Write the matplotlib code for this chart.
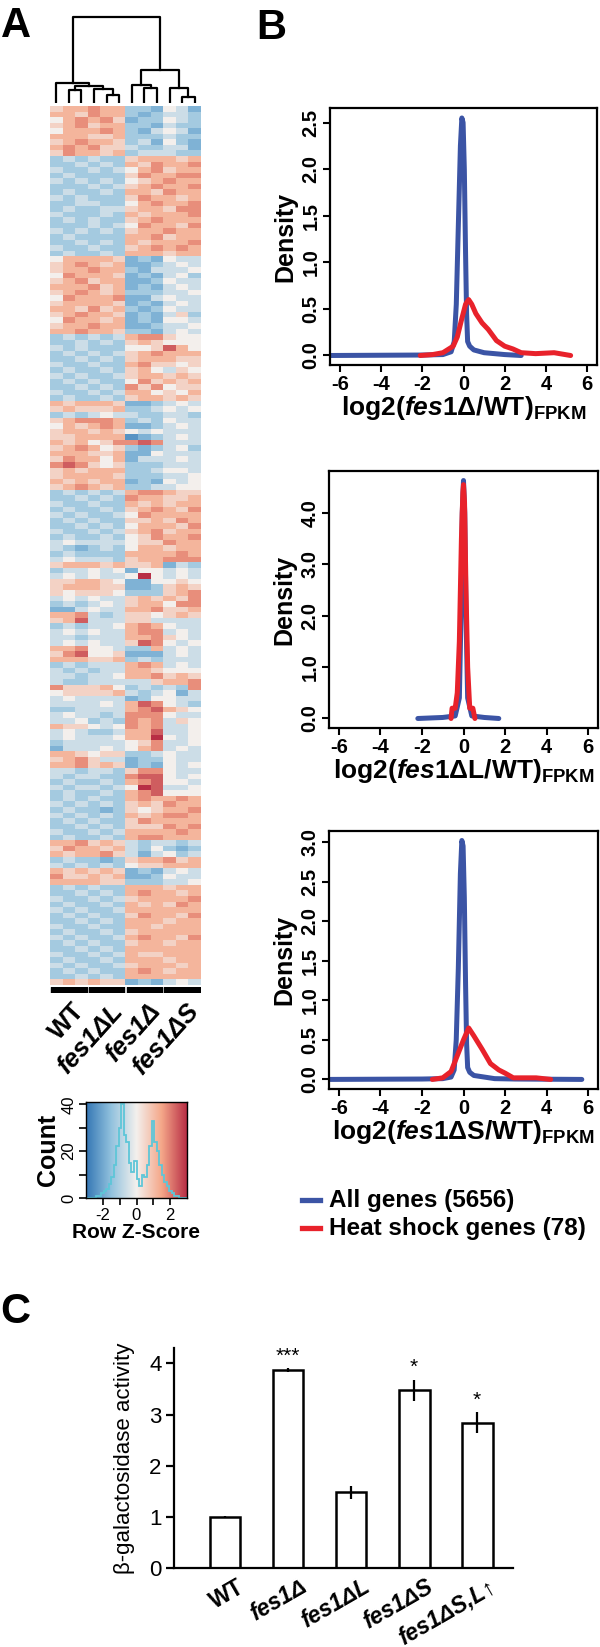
import numpy as np
import matplotlib
matplotlib.use("Agg")
import matplotlib.pyplot as plt
from matplotlib.colors import LinearSegmentedColormap
from matplotlib.lines import Line2D

plt.rcParams['font.family'] = ['Liberation Sans', 'DejaVu Sans']
plt.rcParams['mathtext.fontset'] = 'custom'
plt.rcParams['mathtext.rm'] = 'Liberation Sans:bold'
plt.rcParams['mathtext.it'] = 'Liberation Sans:italic:bold'
plt.rcParams['mathtext.bf'] = 'Liberation Sans:bold'

# ---------------- data ----------------
# heatmap rows, 12 samples (WT x3, fes1dL x3, fes1d x3, fes1dS x3)
# digit d -> row z-score (d - 4) * 0.6
heat_rows = [
    "566766221431", "665766212332", "467675122432", "567566221322", "466676213431",
    "666556222322", "567665231421", "676755322331", "576656233322",
    "232322566656", "223232657667", "322323467566", "232222576677", "323232456766",
    "222323567667", "232232665766", "323222576656", "223322467667", "232233566577",
    "322232656667", "232322567666", "222323476657", "323232566766", "232222667566",
    "223232656667", "322322567676", "232232666566",
    "466665121433", "567656112343", "566766213334", "476665121342", "567566112433",
    "666756121343", "567656222334", "476667113433", "566665121343", "665756212433",
    "567665121352", "476656121443", "566766112334", "667665221343",
    "232323677544", "223232565444", "323222445864", "232323567666", "223232566655",
    "322322675545", "232232564354", "323223566565", "232322475656", "223232757455",
    "322323664546", "232232566565",
    "656665112343", "565556223434", "232343322332", "567776232433", "465676112343",
    "566565434333", "556666012343", "656457787333", "567645212342", "666556114333",
    "576646133343", "787545222333", "565666223443", "566665222334", "656566121434",
    "567656223344",
    "232323677655", "223232766556", "322322656566", "232232567657", "323223476666",
    "232322556576", "223232466657", "322323567566", "232232457667",
    "343333455766", "321232466566", "232222666676", "343332566777", "566656556132",
    "233434144343", "343433494343", "556654114454", "566655112565", "545554222567",
    "343433565657", "232343566477", "113433667556", "667323554565", "568333553333",
    "232334676433", "343433677343", "332333667543", "343433587434", "667443226343",
    "578445111343", "666556232333", "232333676343", "323233665444", "332334667565",
    "322333335667", "755564232327", "455556323413", "343333124433", "333343687432",
    "223333678654", "343323777433", "334232767354", "655434767334", "343223668334",
    "343334669434", "233333457334", "133343467343", "665455223433", "567533122433",
    "667565121434",
    "332332577433", "323322788434", "232232678443", "323323498334", "232232678444",
    "232322676676", "323232565766", "232212545667", "323232656776", "232322576666",
    "223232555767", "322323666676", "232232677666",
    "667565323323", "576656324212", "656675313423",
    "232212566756", "323232455666",
    "656565121343", "755656112433", "666655222334",
    "232322666566", "223232676656", "322323566667", "232232656576", "323223666666",
    "232322576657", "223232666566", "322322665666", "232232566666", "323223676657",
    "232322566566", "223232666666", "322323655666", "232232666566", "323223566656",
    "232322676566", "223232666666",
    "565655121343",
]
heat_groups = ["WT", "fes1ΔL", "fes1Δ", "fes1ΔS"]

# dendrogram merges: (child a, child b, height); leaves 0-11, new nodes from 12
dendro_merges = [
    (1, 2, 0.15), (4, 5, 0.093), (3, 13, 0.163), (12, 14, 0.2), (0, 15, 0.233),
    (7, 8, 0.174), (6, 17, 0.21), (10, 11, 0.07), (9, 19, 0.174), (18, 20, 0.384),
    (16, 21, 1.0),
]

# color key histogram (row z-score bins)
key_edges = [-3.0, -2.85, -2.7, -2.55, -2.4, -2.25, -2.1, -1.95, -1.8, -1.65, -1.5,
             -1.35, -1.2, -1.05, -0.9, -0.75, -0.6, -0.45, -0.3, -0.15, 0.0, 0.15,
             0.3, 0.45, 0.6, 0.75, 0.9, 1.05, 1.2, 1.35, 1.5, 1.65, 1.8, 1.95, 2.1,
             2.25, 2.4, 2.55, 2.7, 2.85, 3.0]
key_counts = [0, 0, 0, 0, 1, 1, 2, 3, 4, 6, 9, 14, 22, 30, 40, 27, 24, 15, 11, 16,
              8, 5, 10, 9, 14, 22, 33, 24, 20, 14, 10, 7, 5, 3, 2, 1, 1, 0, 0, 0]

# density curves (panel B)
d1_all_x = [-6.5, -2.0, -1.0, -0.6, -0.45, -0.35, -0.25, -0.15, -0.08, -0.02, 0.04, 0.1, 0.15, 0.2, 0.3, 0.5, 1.0, 1.5, 2.0, 2.8]
d1_all_y = [0.0, 0.005, 0.01, 0.04, 0.15, 0.55, 1.4, 2.25, 2.55, 2.5, 2.0, 1.1, 0.45, 0.15, 0.1, 0.06, 0.03, 0.02, 0.01, 0.0]
d1_hs_x = [-2.1, -1.5, -1.0, -0.5, -0.3, -0.1, 0.1, 0.25, 0.4, 0.6, 0.9, 1.2, 1.6, 2.0, 2.4, 2.8, 3.5, 4.4, 5.2]
d1_hs_y = [0.0, 0.01, 0.03, 0.1, 0.2, 0.38, 0.55, 0.6, 0.55, 0.45, 0.35, 0.28, 0.16, 0.1, 0.07, 0.03, 0.02, 0.03, 0.0]

d2_all_x = [-2.2, -1.0, -0.4, -0.2, -0.12, -0.06, 0.0, 0.06, 0.12, 0.2, 0.4, 1.0, 1.7]
d2_all_y = [0.0, 0.02, 0.05, 0.4, 2.0, 4.0, 4.63, 4.0, 2.0, 0.4, 0.05, 0.02, 0.0]
d2_hs_x = [-0.6, -0.55, -0.4, -0.3, -0.2, -0.1, -0.03, 0.0, 0.05, 0.12, 0.2, 0.3, 0.45, 0.55]
d2_hs_y = [0.0, 0.2, 0.2, 0.5, 1.5, 3.5, 4.4, 4.55, 4.2, 2.5, 1.0, 0.2, 0.2, 0.0]

d3_all_x = [-6.5, -2.0, -1.0, -0.6, -0.45, -0.35, -0.25, -0.15, -0.08, -0.02, 0.04, 0.1, 0.15, 0.2, 0.3, 0.5, 1.0, 1.5, 2.5, 5.7]
d3_all_y = [0.0, 0.005, 0.01, 0.03, 0.12, 0.5, 1.4, 2.6, 3.02, 2.95, 2.3, 1.2, 0.45, 0.15, 0.09, 0.05, 0.03, 0.01, 0.005, 0.0]
d3_hs_x = [-1.5, -1.0, -0.6, -0.3, 0.0, 0.25, 0.5, 0.9, 1.3, 1.7, 2.0, 2.4, 3.0, 3.5, 4.2]
d3_hs_y = [0.0, 0.02, 0.1, 0.3, 0.5, 0.65, 0.55, 0.38, 0.2, 0.12, 0.08, 0.02, 0.02, 0.02, 0.0]

legend_labels = ["All genes (5656)", "Heat shock genes (78)"]

# beta-galactosidase (panel C)
strains = ["WT", "fes1Δ", "fes1ΔL", "fes1ΔS", "fes1ΔS,L↑"]
activity = [1.0, 3.87, 1.48, 3.47, 2.84]
activity_err = [0.01, 0.04, 0.13, 0.21, 0.21]
signif = ["", "***", "", "*", "*"]

BLUE = "#3b54a5"
RED = "#e8222b"

W, H = 600, 1647
fig = plt.figure(figsize=(6, 16.47), dpi=100)


def px_axes(x0, y0, x1, y1):
    return fig.add_axes([x0 / W, 1 - y1 / H, (x1 - x0) / W, (y1 - y0) / H])


def fx(x):
    return x / W


def fy(y):
    return 1 - y / H


cmap = LinearSegmentedColormap.from_list(
    "zs", [(0.0, "#3476b4"), (0.25, "#92c2de"), (0.5, "#f3f0ed"), (0.75, "#f5a789"), (1.0, "#b82e45")])

# ---------------- panel A ----------------
fig.text(fx(1), fy(37), "A", fontsize=30, fontweight="bold")

Z = np.array([[(int(c) - 4) * 0.6 for c in r] for r in heat_rows])
ax = px_axes(50, 106, 201, 985)
ax.imshow(Z, cmap=cmap, vmin=-3, vmax=3, aspect="auto", interpolation="nearest")
ax.axis("off")

# dendrogram
ax = px_axes(50, 10, 201, 103)
pos = {i: (i + 0.5, 0.0) for i in range(12)}
for k, (a, b, h) in enumerate(dendro_merges):
    xa, ha = pos[a]
    xb, hb = pos[b]
    ax.plot([xa, xa, xb, xb], [ha, h, h, hb], color="k", lw=1.6)
    pos[12 + k] = ((xa + xb) / 2, h)
ax.set_xlim(0, 12)
ax.set_ylim(0, 1.078)
ax.axis("off")

# group bars and labels
ax = px_axes(50, 987, 201, 993)
ax.broken_barh([(3 * i + 0.08, 2.84) for i in range(4)], (0, 1), color="k")
ax.set_xlim(0, 12)
ax.set_ylim(0, 1)
ax.axis("off")
for i, g in enumerate(heat_groups):
    cx = 50 + 151 / 12 * (3 * i + 1.5)
    fig.text(fx(cx + 3), fy(999), g, rotation=48, rotation_mode="anchor",
             ha="right", va="top", fontsize=18.5, fontweight="bold",
             style="normal" if g == "WT" else "italic")

# color key
ax = px_axes(86, 1102, 187, 1198)
ax.imshow(np.linspace(-3, 3, 256)[None, :], cmap=cmap, vmin=-3, vmax=3,
          extent=(-3, 3, 0, 41), aspect="auto")
ax.stairs(key_counts, key_edges, color="#5ec6d8", lw=1.3)
ax.set_xlim(-3, 3)
ax.set_ylim(0, 41)
ax.set_xticks([-2, -1, 0, 1, 2])
ax.set_xticklabels(["-2", "", "0", "", "2"], fontsize=12)
ax.set_yticks([0, 10, 20, 30, 40])
ax.set_yticklabels(["0", "", "20", "", "40"], rotation=90, va="center", fontsize=12)
ax.tick_params(length=5, width=1.2, pad=2)
for s in ax.spines.values():
    s.set_linewidth(1.0)
ax.set_xlabel("Row Z-Score", fontsize=15, fontweight="bold", labelpad=0)
ax.set_ylabel("Count", fontsize=18, fontweight="bold", labelpad=1)

# ---------------- panel B ----------------
fig.text(fx(256), fy(39), "B", fontsize=30, fontweight="bold")


def density_panel(box, ax_x, ax_y, hs_x, hs_y, ylim, yticks, mid):
    ax = px_axes(*box)
    ax.plot(ax_x, ax_y, color=BLUE, lw=3.6, solid_capstyle="round", solid_joinstyle="round")
    ax.plot(hs_x, hs_y, color=RED, lw=3.6, solid_capstyle="round", solid_joinstyle="round")
    ax.set_xlim(-6.48, 6.48)
    ax.set_ylim(*ylim)
    ax.set_xticks(range(-6, 7, 2))
    ax.set_xticklabels([str(v) for v in range(-6, 7, 2)], fontsize=14.5, fontweight="bold")
    ax.set_yticks(yticks)
    ax.set_yticklabels(["%.1f" % v for v in yticks], rotation=90, va="center",
                       fontsize=14.5, fontweight="bold")
    ax.tick_params(length=5, width=1.5, pad=2)
    for s in ax.spines.values():
        s.set_linewidth(1.6)
    ax.set_ylabel("Density", fontsize=18, fontweight="bold", labelpad=3)
    ax.set_xlabel(r"$\mathrm{log2(}\mathit{fes1}\mathrm{" + mid + r")}_{\mathrm{FPKM}}$",
                  fontsize=19, labelpad=0)
    return ax


density_panel((330, 108, 597, 365), d1_all_x, d1_all_y, d1_hs_x, d1_hs_y,
              (-0.102, 2.657), [0.0, 0.5, 1.0, 1.5, 2.0, 2.5], r"\Delta/WT")
density_panel((329, 471, 598, 728), d2_all_x, d2_all_y, d2_hs_x, d2_hs_y,
              (-0.185, 4.815), [0.0, 1.0, 2.0, 3.0, 4.0], r"\Delta L/WT")
density_panel((329, 831, 598, 1089), d3_all_x, d3_all_y, d3_hs_x, d3_hs_y,
              (-0.121, 3.14), [0.0, 0.5, 1.0, 1.5, 2.0, 2.5, 3.0], r"\Delta S/WT")

for yy, col, lab in zip([1200, 1228], [BLUE, RED], legend_labels):
    fig.add_artist(Line2D([fx(302), fx(320)], [fy(yy), fy(yy)], color=col, lw=3.8,
                          transform=fig.transFigure))
    fig.text(fx(329), fy(yy), lab, fontsize=17.5, fontweight="bold", va="center", ha="left")

# ---------------- panel C ----------------
fig.text(fx(0), fy(1323), "C", fontsize=30, fontweight="bold")

ax = px_axes(174, 1348, 513, 1568)
xs = np.arange(len(strains))
ax.bar(xs, activity, width=0.49, color="white", edgecolor="k", linewidth=1.8, zorder=2)
ax.errorbar(xs, activity, yerr=activity_err, fmt="none", ecolor="k", elinewidth=1.6,
            capsize=0, zorder=3)
for x, v, e, s in zip(xs, activity, activity_err, signif):
    if s:
        ax.text(x, v + e + 0.05, s, ha="center", va="bottom", fontsize=15)
ax.set_xlim(-0.81, 4.57)
ax.set_ylim(0, 4.3)
ax.set_yticks([0, 1, 2, 3, 4])
ax.set_yticklabels(["0", "1", "2", "3", "4"], fontsize=16)
ax.set_xticks(xs)
ax.set_xticklabels([])
ax.tick_params(axis="y", length=6, width=1.6, pad=3)
ax.tick_params(axis="x", length=0)
ax.spines["top"].set_visible(False)
ax.spines["right"].set_visible(False)
ax.spines["left"].set_linewidth(1.6)
ax.spines["bottom"].set_linewidth(1.6)
ax.spines["left"].set_bounds(0, 4.3)
ax.set_ylabel("β-galactosidase activity", fontsize=16, labelpad=10)
for x, s in zip(xs, strains):
    ax.text(x + 0.18, -0.14, s, rotation=30, rotation_mode="anchor", ha="right", va="top",
            fontsize=16.5, fontweight="bold", style="normal" if s == "WT" else "italic",
            family=["Liberation Sans", "DejaVu Sans"],
            transform=ax.transData, clip_on=False)

fig.savefig("out.png", dpi=100)
